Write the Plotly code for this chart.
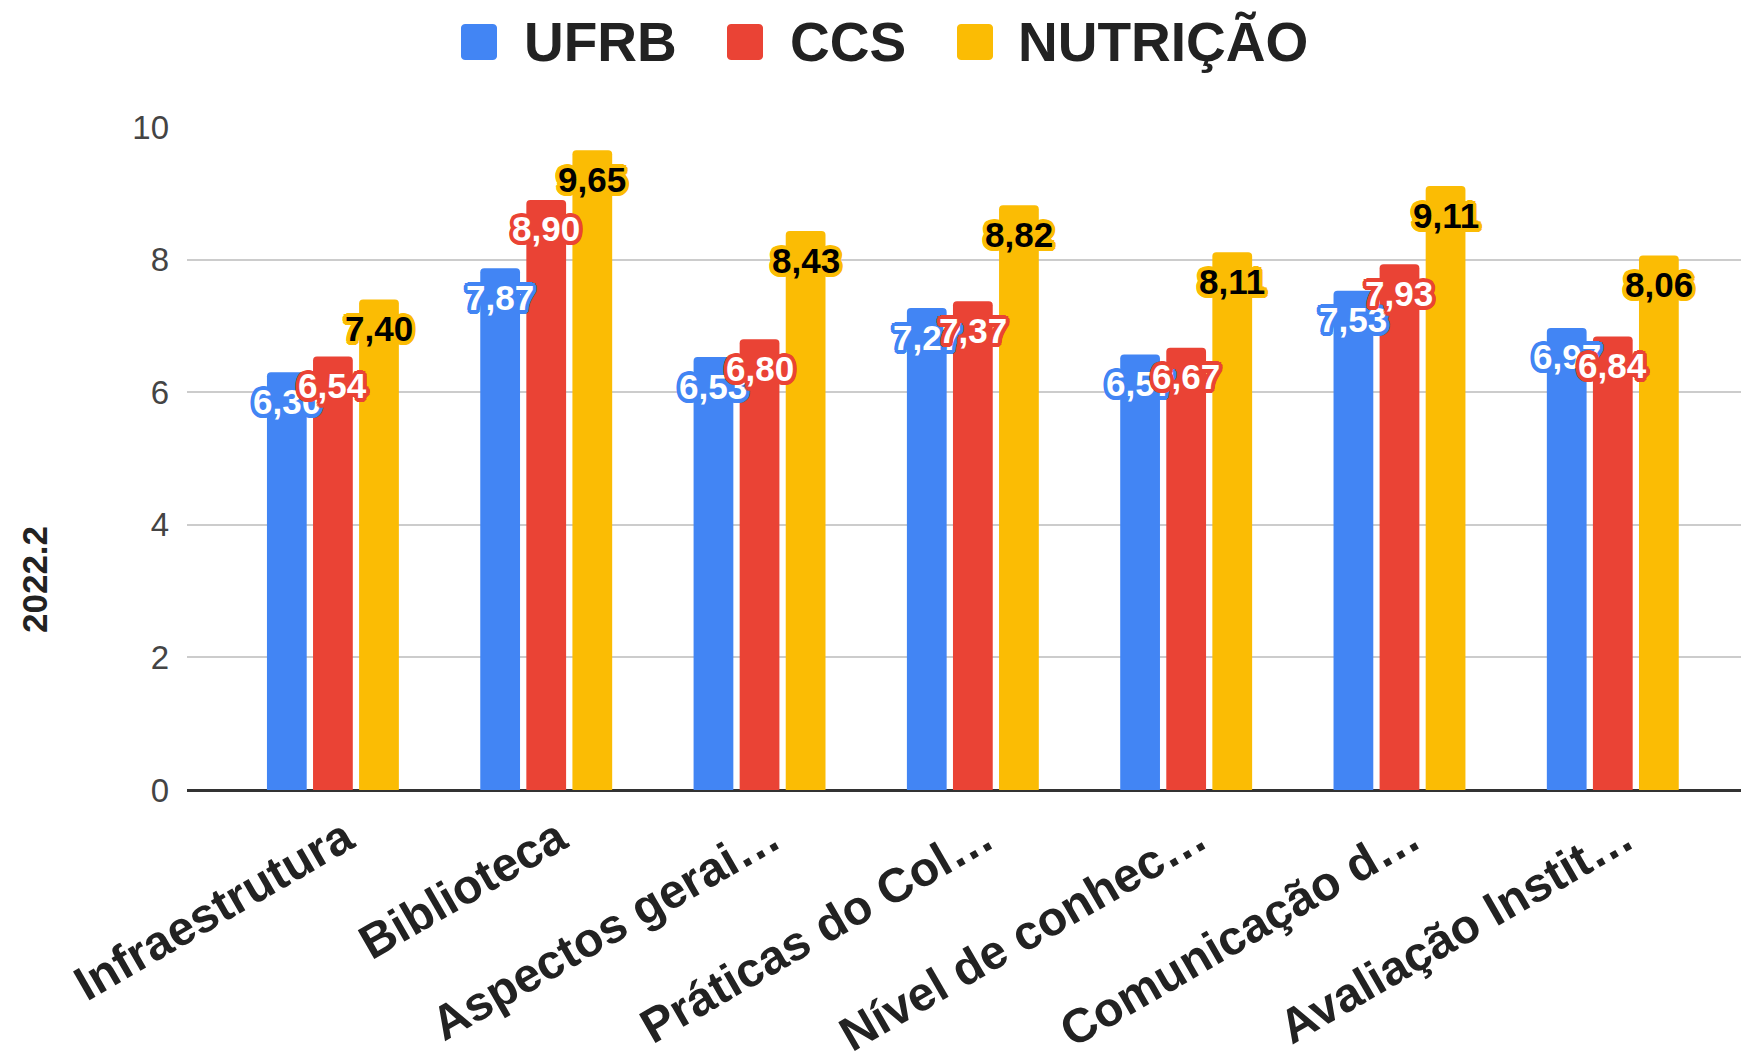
import math
import plotly.graph_objects as go

# ---------------- data ----------------
categories = ["Infraestrutura", "Biblioteca", "Aspectos gerai…", "Práticas do Col…",
              "Nível de conhec…", "Comunicação d…", "Avaliação Instit…"]
series_names = ["UFRB", "CCS", "NUTRIÇÃO"]
ufrb = [6.30, 7.87, 6.53, 7.27, 6.57, 7.53, 6.97]
ccs = [6.54, 8.90, 6.80, 7.37, 6.67, 7.93, 6.84]
nutricao = [7.40, 9.65, 8.43, 8.82, 8.11, 9.11, 8.06]
y_ticks = [0, 2, 4, 6, 8, 10]
y_title = "2022.2"

# ---------------- style ----------------
colors = ["#4285F4", "#EA4335", "#FBBC04"]
label_colors = ["#FFFFFF", "#FFFFFF", "#000000"]
W, H = 1749, 1060
L, R, T, B = 179, 0, 119, 278
plot_w, plot_h = W - L - R, H - T - B
x_range = [-0.684, 6.676]
bargap, bargroupgap = 0.352, 0.137
FONT = "Liberation Sans, Arial, sans-serif"

def px2x(px):
    return (px - L) / plot_w

def py2y(py):
    return (H - B - py) / plot_h

def outline(color, r=3.8):
    parts = []
    for k in range(16):
        a = 2 * math.pi * k / 16
        parts.append(f"{r*math.cos(a):.1f}px {r*math.sin(a):.1f}px 0.5px {color}")
    return ", ".join(parts)

def rounded_rect_path(x0, y0, x1, y1, r):
    # pixel coords -> paper coords path with rounded corners
    pts = []
    steps = 6
    corners = [(x1 - r, y0 + r, -90), (x1 - r, y1 - r, 0), (x0 + r, y1 - r, 90), (x0 + r, y0 + r, 180)]
    for cx, cy, start in corners:
        for s in range(steps + 1):
            a = math.radians(start + 90 * s / steps)
            px = cx + r * math.cos(a)
            py = cy + r * math.sin(a)
            pts.append((px2x(px), py2y(py)))
    d = "M " + " L ".join(f"{x:.5f},{y:.5f}" for x, y in pts) + " Z"
    return d

all_series = [ufrb, ccs, nutricao]

fig = go.Figure()
for name, vals, col in zip(series_names, all_series, colors):
    fig.add_trace(go.Bar(
        name=name, x=categories, y=vals,
        marker=dict(color=col, cornerradius=4, line=dict(width=0)),
        showlegend=False, hoverinfo="x+y+name",
    ))

# data labels
px_per_unit = plot_w / (x_range[1] - x_range[0])
slot_px = px_per_unit * (1 - bargap) / len(series_names)
annotations = []
for k, (vals, col, tcol) in enumerate(zip(all_series, colors, label_colors)):
    for cat, v in zip(categories, vals):
        annotations.append(dict(
            x=cat, y=v, xref="x", yref="y",
            text=f"{v:.2f}".replace(".", ","),
            showarrow=False, xanchor="center", yanchor="middle",
            xshift=(k - 1) * slot_px, yshift=-29,
            font=dict(family=FONT, size=35, color=tcol, weight="bold",
                      shadow=outline(col)),
        ))

# y axis title
annotations.append(dict(
    x=px2x(26), y=py2y(572), xref="paper", yref="paper",
    text=y_title, textangle=-90, showarrow=False,
    xanchor="center", yanchor="middle",
    font=dict(family=FONT, size=35, color="#222222", weight="bold"),
))

# manual legend
shapes = []
legend_sq = [(453, 489), (719, 755), (949, 985)]
legend_txt = [514, 780, 1008]
for name, col, (x0, x1), tx in zip(series_names, colors, legend_sq, legend_txt):
    shapes.append(dict(type="path", xref="paper", yref="paper",
                       path=rounded_rect_path(x0, 16, x1, 52, 4),
                       fillcolor=col, line=dict(width=0), layer="above"))
    annotations.append(dict(
        x=px2x(tx), y=py2y(34), xref="paper", yref="paper",
        text=name, showarrow=False, xanchor="left", yanchor="middle",
        font=dict(family=FONT, size=55, color="#222222", weight="bold"),
    ))

fig.update_layout(
    width=W, height=H,
    margin=dict(l=L, r=R, t=T, b=B),
    paper_bgcolor="white", plot_bgcolor="white",
    barmode="group", bargap=bargap, bargroupgap=bargroupgap,
    showlegend=False,
    annotations=annotations, shapes=shapes,
    xaxis=dict(
        type="category", range=x_range, showgrid=False, showline=False,
        zeroline=False, ticks="", tickangle=-30,
        ticklabelshift=12, ticklabelstandoff=10,
        tickfont=dict(family=FONT, size=48, color="#222222", weight="bold"),
        automargin=False,
    ),
    yaxis=dict(
        range=[0, 10], tickvals=y_ticks, showgrid=True, gridcolor="#CCCCCC",
        gridwidth=2, zeroline=True, zerolinecolor="#333333", zerolinewidth=3,
        showline=False, ticks="", ticklabelstandoff=17,
        tickfont=dict(family=FONT, size=33, color="#444444"),
        automargin=False,
    ),
)

fig.write_html("out.html")
